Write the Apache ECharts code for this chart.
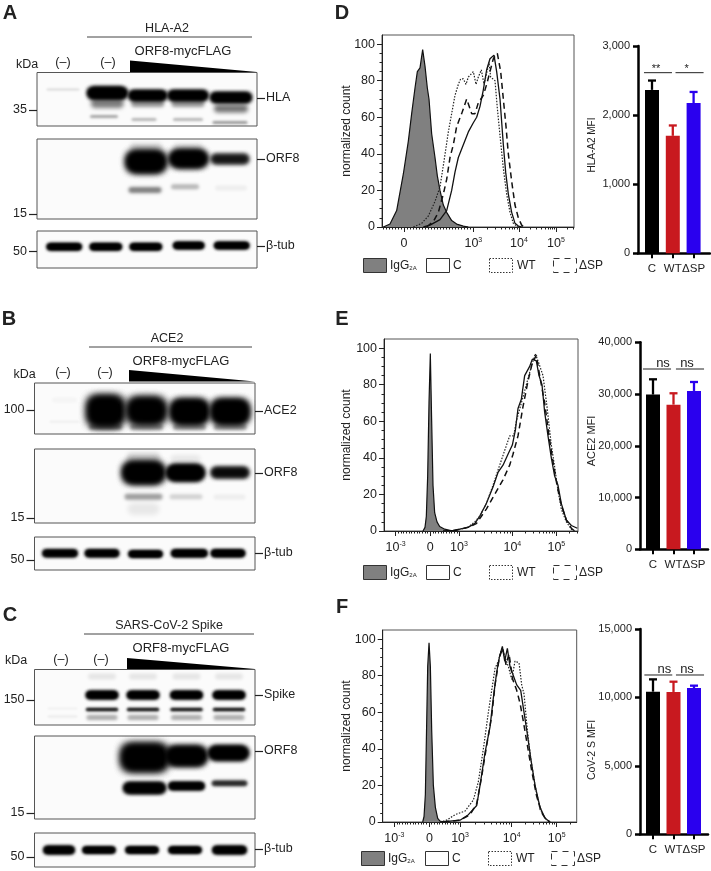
<!DOCTYPE html>
<html><head><meta charset="utf-8">
<style>html,body{margin:0;padding:0;background:#fff}#c{width:711px;height:871px}</style>
<script src="https://cdn.jsdelivr.net/npm/echarts@6/dist/echarts.min.js"></script>
</head><body><div id="c"></div>
<script>
// ---------- DATA ----------
// Western blot bands: [gel position, gel depth, band width, band height, density]
const bandsA1=[[26,17,33,2,.14],[70.3,31,33,9,.5],[67,44,28,3,.35],[110.7,31,33,7,.42],[107,47,25,3,.28],[151,31,33,7,.42],[151,47,30,3,.28],[194,36,34,8,.55],[193,50,35,3,.4],[70.3,20.5,39,11,1],[110.7,23,37,9,1],[151,23,39,9,1],[194,25,40,9,1]];
const bandsA2=[[109,8,32,8,.15],[151,8,30,8,.1],[109,22.7,38,20,1],[151.5,19.7,37,16,1],[193,20,38,10,.72],[108,51,33,6,.5],[148,47.7,28,5,.28],[194,49,32,5,.06]];
const bandsA3=[[27.2,15.7,34,6,1],[68.8,15.7,31,6,1],[108.8,15.7,31,6,1],[151.7,14.5,30,6,1],[194.7,14.5,34,6,1]];
const bandsB1=[[30,38.7,30,2,.06],[30,17,25,5,.03],[71,44,33,6,.45],[112,44,33,6,.4],[155,44,33,6,.4],[195.7,44,33,6,.4],[71,28,34,28,1],[112,27.7,36,24,1],[155,28.7,36,23,1],[195.7,28.7,36,23,1]];
const bandsB2=[[109,9,34,10,.18],[151,10,30,8,.08],[109,23.7,40,20,1],[151,23.7,37,15,1],[195.5,23.5,38,11,.82],[109,47.7,38,6,.38],[109,60,32,12,.08],[151.5,47.7,33,5,.17],[195,48,32,5,.06]];
const bandsB3=[[25.5,16.3,34,6.5,.92],[67.5,16.3,33,6.5,.95],[111,17,33,6,1],[154.8,16.3,35,6.5,1],[193.5,16.3,33,6.5,1]];
const bandsC1=[[67.5,7,28,6,.09],[108.5,7,28,6,.09],[152,7,28,6,.09],[194.5,7,28,6,.09],[28,47,30,2,.08],[28,39,30,2,.05],[67.5,48,31,5,.32],[108.5,48,31,5,.32],[152,48,31,5,.32],[194.5,48,31,5,.32],[67.5,40,32,3,.7],[108.5,40,32,3,.7],[152,40,32,3,.7],[194.5,40,32,3,.7],[67.5,25.5,31,7,1],[108.5,25.5,31,7,1],[152,25.5,31,7,1],[194.5,25.5,31,7,1]];
const bandsC2=[[110,21.5,44,25,1],[152,20,39,18,1],[194,17,39,13,1],[110,52,41,10,1],[152,50,35,7,.95],[195,47.3,35,5,.65]];
const bandsC3=[[24.5,17,30,7,1],[64.5,17,32,6,1],[107.5,17,32,6,1],[150.5,17,32,6,1],[195,17,33,7,1]];

// Flow cytometry histograms: [display channel, normalized count]
const igD=[[130,0],[150,1.6],[170,9],[190,29],[205,47],[215,62],[225,76],[232,85],[240,87],[248,97],[255,88],[262,76],[267,70],[275,51],[285,38],[292,28],[300,20],[310,12],[320,8],[335,3.5],[350,1.6],[370,.5],[385,0]];
const cD=[[250,0],[270,1],[300,4],[320,9],[335,20],[345,30],[355,38],[370,45],[385,52],[400,57],[410,60],[420,66],[430,75],[440,86],[450,92],[462,94],[470,85],[480,70],[490,45],[497,30],[505,18],[515,8],[525,2],[535,.5],[545,0]];
const wtD=[[220,0],[245,2],[265,6],[285,14],[300,22],[312,36],[325,52],[335,62],[345,72],[355,78],[362,81],[370,81],[378,78],[385,82],[400,85],[408,78],[415,82],[424,86],[432,78],[440,84],[447,90],[452,82],[465,80],[472,65],[480,50],[490,32],[500,18],[510,8],[520,2],[530,.5],[540,0]];
const dsD=[[260,0],[280,3],[295,8],[310,18],[320,26],[330,38],[340,45],[350,55],[365,62],[380,70],[385,70],[395,62],[405,62],[415,68],[430,72],[440,78],[450,85],[460,92],[472,95],[482,85],[490,70],[498,55],[505,40],[515,25],[525,12],[535,5],[545,1],[552,0]];
const igE=[[250,0],[256,2],[260,8],[264,30],[268,70],[272,97],[276,60],[280,25],[285,10],[292,5],[300,2.5],[315,1],[340,0]];
const cE=[[310,0],[340,.3],[360,1],[385,2],[405,4],[420,8],[440,15],[460,24],[475,32],[490,36],[505,42],[518,47],[527,55],[535,67],[545,72],[555,85],[570,90],[578,94],[590,93],[598,85],[607,80],[615,65],[625,52],[635,40],[645,30],[655,25],[665,15],[680,6],[695,3],[713,1.5]];
const wtE=[[340,0],[385,2],[405,5],[420,8],[440,15],[460,25],[480,36],[495,44],[510,52],[522,52],[530,60],[545,70],[560,80],[575,90],[587,97],[597,92],[610,85],[622,68],[635,47],[645,35],[655,22],[665,12],[680,5],[695,1],[705,0]];
const dsE=[[340,0],[385,2],[410,4],[440,12],[465,20],[490,28],[510,36],[520,42],[535,52],[550,68],[565,82],[578,92],[590,96],[600,85],[615,70],[628,52],[640,38],[652,25],[665,14],[680,6],[695,1.5],[705,0]];
const igF=[[248,0],[252,3],[256,15],[260,55],[263,85],[267,98],[271,85],[275,50],[280,20],[286,8],[293,2],[300,.5],[310,0]];
const cF=[[300,0],[330,.5],[360,1],[385,4],[410,9],[420,20],[435,38],[450,52],[460,68],[470,82],[478,90],[487,96],[494,88],[502,95],[510,85],[520,80],[530,75],[542,72],[552,60],[562,48],[572,35],[585,20],[600,8],[615,2],[630,0]];
const wtF=[[300,0],[320,1],[345,4],[375,6],[400,12],[415,22],[430,40],[445,60],[455,72],[465,84],[475,88],[485,95],[495,90],[505,85],[515,78],[525,88],[537,87],[545,75],[552,70],[562,50],[572,35],[585,20],[600,7],[615,2],[630,0]];
const dsF=[[310,0],[360,1],[390,4],[410,10],[425,25],[440,42],[455,58],[465,75],[478,90],[488,95],[498,86],[507,92],[518,78],[530,72],[540,65],[550,55],[562,42],[575,28],[590,14],[605,5],[620,1],[630,0]];

// MFI bars
const barCategories=['C','WT','ΔSP'];
const mfiD=[2365,1700,2175], mfiDTop=[2500,1850,2335];
const mfiE=[29900,27950,30600], mfiETop=[32850,30150,32330];
const mfiF=[10420,10400,10690], mfiFTop=[11320,11150,10860];
const sigD=[[.615,1.96,2614,'**'],[2.13,3.48,2614,'*']];
const sigE=[[.51,1.88,34840,'ns'],[2.12,3.49,34840,'ns']];
const sigF=[[.58,1.94,11640,'ns'],[2.12,3.49,11640,'ns']];

// ---------- HELPERS ----------
const FF='"Liberation Sans",Arial,sans-serif', INK='#222';
const barColors=['#000000','#c8191f','#2a00ee'];
const grid=[],xAxis=[],yAxis=[],series=[],graphic=[];
const txt=(t,x,y,size,o={})=>graphic.push({type:'text',x,y,silent:true,rotation:o.rot||0,style:{text:t,fontFamily:FF,fontSize:size,fontWeight:o.bold?'bold':'normal',fill:INK,align:o.align||'center',verticalAlign:'middle',rich:o.rich}});
const rule=(x1,x2,y)=>graphic.push({type:'line',silent:true,shape:{x1,y1:y,x2,y2:y},style:{stroke:'#444',lineWidth:1}});
const tri=(x1,y1,x2,y2)=>graphic.push({type:'polygon',silent:true,shape:{points:[[x1,y1],[x1,y2],[x2,y2]]},style:{fill:'#000'}});

const OFF=3000;
function blot(x,y,w,h,bands,leftTicks,rightTicks){
  const g=grid.length;
  grid.push({left:x,top:y,width:w,height:h,show:true,backgroundColor:'#fbfbfb',borderColor:'#555',borderWidth:1,containLabel:false});
  xAxis.push({gridIndex:g,type:'value',min:0,max:w,show:false});
  const xi=xAxis.length-1;
  const mk=(pos,ticks,m)=>({gridIndex:g,type:'value',position:pos,inverse:true,min:0,max:h,splitLine:{show:false},axisLine:{show:false},
    axisTick:{show:true,length:8,customValues:ticks.map(t=>t[0]),lineStyle:{color:INK,width:1.2}},
    axisLabel:{show:true,customValues:ticks.map(t=>t[0]),margin:m,fontFamily:FF,fontSize:12.5,color:INK,formatter:v=>(ticks.find(t=>t[0]===v)||[,''])[1]}});
  yAxis.push(mk('left',leftTicks,10)); const yi=yAxis.length-1;
  yAxis.push(mk('right',rightTicks,9));
  series.push({type:'custom',xAxisIndex:xi,yAxisIndex:yi,clip:true,silent:true,data:bands,encode:{x:0,y:1},
    renderItem:(p,api)=>{
      const c=api.coord([api.value(0),api.value(1)]),bw=api.value(2),bh=api.value(3),a=api.value(4);
      const col='rgba(0,0,0,'+a+')';
      const one=()=>({type:'rect',shape:{x:c[0]-bw/2-OFF,y:c[1]-bh/2,width:bw,height:bh,r:Math.min(bh/2,8)},
        style:{fill:'#000',shadowColor:col,shadowBlur:2+bh*.25,shadowOffsetX:OFF}});
      const kids=[one()];
      if(a>=.6) kids.push(one());
      if(a>=.9) kids.push(one());
      return {type:'group',children:kids};
    }});
}

function minorTicks(anchors,lowStart,lowStep){ // anchors: channel of 10^3,10^4,10^5
  const out=[];
  for(let s=lowStart;s<anchors[0];s+=lowStep) out.push(s);
  for(let d=0;d<2;d++) for(let k=2;k<10;k++) out.push(anchors[d]+(anchors[d+1]-anchors[d])*Math.log10(k));
  for(let k=2;k<6;k++) out.push(anchors[2]+(anchors[2]-anchors[1])*Math.log10(k));
  return out;
}

function flow(x,y,w,h,xmin,xmax,yTop,ticks,labels,anchors,low,curves,legY,legX){
  const g=grid.length;
  grid.push({left:x,top:y,width:w,height:h,show:true,borderColor:'#555',borderWidth:1,backgroundColor:'#fff'});
  const axStyle={color:'#222',width:1};
  const sup={s:{fontSize:7,fontFamily:FF,color:INK,verticalAlign:'top',padding:[0,0,6,0],lineHeight:8}};
  xAxis.push({gridIndex:g,type:'value',position:'bottom',min:xmin,max:xmax,splitLine:{show:false},axisLine:{show:true,onZero:false,lineStyle:axStyle},
    axisTick:{show:true,length:5,customValues:ticks,lineStyle:axStyle},
    axisLabel:{show:true,customValues:ticks,margin:10,fontFamily:FF,fontSize:12.5,color:INK,rich:sup,formatter:v=>labels[ticks.indexOf(v)]||''}});
  const xi=xAxis.length-1;
  xAxis.push({gridIndex:g,type:'value',position:'bottom',min:xmin,max:xmax,splitLine:{show:false},axisLine:{show:false},
    axisTick:{show:true,length:2.5,customValues:minorTicks(anchors,low[0],low[1]),lineStyle:axStyle},axisLabel:{show:false}});
  const majors=[0,20,40,60,80,100], minors=[5,10,15,25,30,35,45,50,55,65,70,75,85,90,95];
  yAxis.push({gridIndex:g,type:'value',position:'left',min:0,max:yTop,splitLine:{show:false},axisLine:{show:true,onZero:false,lineStyle:axStyle},
    axisTick:{show:true,length:5,customValues:majors,lineStyle:axStyle},
    axisLabel:{show:true,customValues:majors,margin:7,fontFamily:FF,fontSize:12.5,color:INK}});
  const yi=yAxis.length-1;
  yAxis.push({gridIndex:g,type:'value',position:'left',min:0,max:yTop,splitLine:{show:false},axisLine:{show:false},
    axisTick:{show:true,length:2.5,customValues:minors,lineStyle:axStyle},axisLabel:{show:false}});
  const base={type:'line',xAxisIndex:xi,yAxisIndex:yi,showSymbol:false,smooth:false,silent:true,animation:false,clip:true};
  series.push({...base,name:'IgG2A',data:curves[0],lineStyle:{color:'#111',width:1.2},areaStyle:{color:'#808080',opacity:1,origin:'start'}});
  series.push({...base,name:'C',data:curves[1],lineStyle:{color:'#111',width:1.3}});
  series.push({...base,name:'WT',data:curves[2],lineStyle:{color:'#222',width:1.2,type:[1.5,1.5]}});
  series.push({...base,name:'ΔSP',data:curves[3],lineStyle:{color:'#111',width:1.5,type:[6,4]}});
  txt('normalized count',347,y+h/2,12,{rot:Math.PI/2});
  // legend
  const sw=(sx,fill,dash)=>graphic.push({type:'rect',silent:true,shape:{x:sx+.5,y:legY+.5,width:23,height:14},style:{fill,stroke:'#333',lineWidth:1,lineDash:dash||null}});
  sw(legX[0],'#808080'); sw(legX[1],'#fff'); sw(legX[2],'#fff',[1.5,1.5]); sw(legX[3],'#fff',[6,5]);
  const ly=legY+7.5;
  txt('{a|IgG}{b|2A}',legX[0]+27,ly,12,{align:'left',rich:{a:{fontSize:12,fontFamily:FF,fill:INK,color:INK},b:{fontSize:6,fontFamily:FF,color:INK,verticalAlign:'bottom',padding:[6,0,0,0]}}});
  txt('C',legX[1]+27,ly,12,{align:'left'});
  txt('WT',legX[2]+28,ly,12,{align:'left'});
  txt('ΔSP',legX[3]+26,ly,12,{align:'left'});
}

function bars(x,y,w,h,ymax,step,centerC,spacing,vals,tops,sigs,name,nameY,nameSize){
  const g=grid.length;
  grid.push({left:x,top:y,width:w,height:h,show:false});
  const xmin=1-(centerC-x)/spacing, xmax=xmin+w/spacing;
  const ln={color:'#000',width:2.5};
  xAxis.push({gridIndex:g,type:'value',min:xmin,max:xmax,splitLine:{show:false},axisLine:{show:true,onZero:false,lineStyle:ln},
    axisTick:{show:true,length:5,customValues:[1,2,3],lineStyle:{color:'#000',width:2}},
    axisLabel:{show:true,customValues:[1,2,3],hideOverlap:false,showMaxLabel:true,showMinLabel:true,margin:10,fontFamily:FF,fontSize:11.5,color:INK,formatter:v=>barCategories[Math.round(v)-1]}});
  yAxis.push({gridIndex:g,type:'value',min:0,max:ymax,interval:step,splitLine:{show:false},axisLine:{show:true,onZero:false,lineStyle:ln},
    axisTick:{show:true,length:5,lineStyle:ln},axisLabel:{margin:8,fontFamily:FF,fontSize:11,color:INK}});
  const xi=xAxis.length-1,yi=yAxis.length-1;
  series.push({type:'bar',xAxisIndex:xi,yAxisIndex:yi,barWidth:14,silent:true,animation:false,
    data:vals.map((v,i)=>({value:[i+1,v],itemStyle:{color:barColors[i]}}))});
  series.push({type:'custom',xAxisIndex:xi,yAxisIndex:yi,silent:true,data:vals.map((v,i)=>[i+1,v,tops[i]]),encode:{x:0,y:2},
    renderItem:(p,api)=>{
      const a=api.coord([api.value(0),api.value(1)]),b=api.coord([api.value(0),api.value(2)]);
      const st={stroke:barColors[p.dataIndex],lineWidth:2.3,fill:null};
      return {type:'group',children:[
        {type:'line',shape:{x1:a[0],y1:a[1],x2:a[0],y2:b[1]},style:st},
        {type:'line',shape:{x1:a[0]-4,y1:b[1],x2:a[0]+4,y2:b[1]},style:st}]};
    }});
  series.push({type:'custom',xAxisIndex:xi,yAxisIndex:yi,silent:true,data:sigs.map(s=>[s[0],s[1],s[2]]),encode:{x:[0,1],y:2},
    renderItem:(p,api)=>{
      const a=api.coord([api.value(0),api.value(2)]),b=api.coord([api.value(1),api.value(2)]);
      const label=sigs[p.dataIndex][3],ns=label==='ns';
      const dx=p.dataIndex?-3:(ns?6:-2);
      return {type:'group',children:[
        {type:'line',shape:{x1:a[0],y1:a[1],x2:b[0],y2:b[1]},style:{stroke:'#222',lineWidth:1}},
        {type:'text',style:{text:label,x:(a[0]+b[0])/2+dx,y:a[1]-(ns?6:4),align:'center',verticalAlign:'middle',fontFamily:FF,fontSize:ns?13:11,fill:INK}}]};
    }});
  txt(name,592,nameY,nameSize,{rot:Math.PI/2});
}

// ---------- PANELS ----------
// A
txt('A',10,13,20,{bold:true});
txt('HLA-A2',167,29,12.5); rule(87,252,37); txt('ORF8-mycFLAG',183,51,13);
txt('kDa',27,65,12.5); txt('(–)',63,63,12.5); txt('(–)',108,63,12.5); tri(130,60.5,257,72);
blot(37,72.5,220,53.5,bandsA1,[[37.5,'35']],[[25.5,'HLA']]);
blot(37,139,220,80,bandsA2,[[75,'15']],[[20,'ORF8']]);
blot(37,231,220,37,bandsA3,[[20.5,'50']],[[15,'β-tub']]);
// B
txt('B',9,319,20,{bold:true});
txt('ACE2',167,339,12.5); rule(89,252,347); txt('ORF8-mycFLAG',181,361,13);
txt('kDa',24.5,375,12.5); txt('(–)',63,373,12.5); txt('(–)',105,373,12.5); tri(129,370,255,381.5);
blot(34.5,383,220.5,51,bandsB1,[[27,'100']],[[28,'ACE2']]);
blot(34.5,449,220.5,74,bandsB2,[[69,'15']],[[24,'ORF8']]);
blot(34.5,537,220.5,33,bandsB3,[[23,'50']],[[16,'β-tub']]);
// C
txt('C',10,615,20,{bold:true});
txt('SARS-CoV-2 Spike',169,626,12.5); rule(84,254,634); txt('ORF8-mycFLAG',181,648,13);
txt('kDa',16,661,12.5); txt('(–)',61,660,12.5); txt('(–)',101,660,12.5); tri(127,658,255,669);
blot(34.5,669.5,220.5,55.5,bandsC1,[[30.5,'150']],[[25.5,'Spike']]);
blot(34.5,736,220.5,83,bandsC2,[[77,'15']],[[15,'ORF8']]);
blot(34.5,833,220.5,34,bandsC3,[[24,'50']],[[16,'β-tub']]);
// D, E, F histograms
txt('D',342,13,20,{bold:true}); txt('E',342,319,20,{bold:true}); txt('F',342,607,20,{bold:true});
const lbl=['10{s|-3}','0','10{s|3}','10{s|4}','10{s|5}'];
flow(382,35,192,192,126,702,105,[192,400,537,648],lbl.slice(1),[400,537,648],[130,9],[igD,cD,wtD,dsD],258,[363,426,489,553]);
flow(384,339,194,192,133,715,105,[168,272,358,518,650],lbl,[358,518,650],[168,8],[igE,cE,wtE,dsE],565,[363,426,489,553]);
flow(382.7,630,194,192,128,710,105,[163,268,360,515,650],lbl,[360,515,650],[163,8],[igF,cF,wtF,dsF],851,[361,425,488,551]);
// Bars
bars(638,46,72,207.3,3000,1000,652,20.8,mfiD,mfiDTop,sigD,'HLA-A2 MFI',145,10);
bars(640,342.3,68,207,40000,10000,653,20.5,mfiE,mfiETop,sigE,'ACE2 MFI',441,11);
bars(640,629,68,205.3,15000,5000,653,20.5,mfiF,mfiFTop,sigF,'CoV-2 S MFI',750,10.5);

const chart=echarts.init(document.getElementById('c'),null,{renderer:'canvas'});
chart.setOption({animation:false,backgroundColor:'#fff',textStyle:{fontFamily:FF},tooltip:{show:false},
  grid,xAxis,yAxis,series,graphic:{elements:graphic}});
</script></body></html>
